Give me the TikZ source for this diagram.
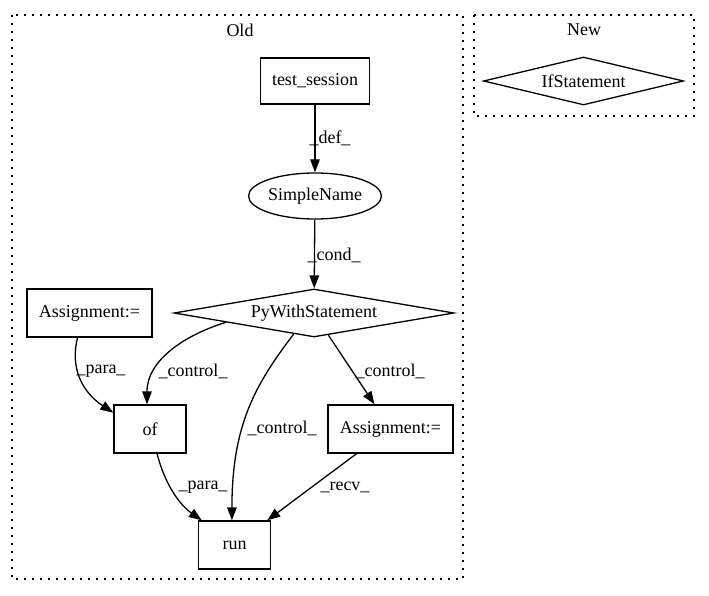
\documentclass[tikz,border=0pt]{standalone}
\usepackage{fontspec}
\setmainfont{Liberation Serif}
\usetikzlibrary{shapes.geometric,arrows.meta}
\begin{document}
\begin{tikzpicture}[x=1pt,y=-1pt,
  every node/.style={font=\fontsize{18}{21}\selectfont, inner sep=0pt},
  boxnode/.style={draw, line width=1.3pt, rectangle},
  diamondnode/.style={draw, line width=1.3pt, diamond},
  ellnode/.style={draw, line width=1.3pt, ellipse, minimum width=108pt, minimum height=46pt},
  cluster/.style={line width=1.3pt, dash pattern=on 2pt off 6pt},
  edge/.style={line width=1.3pt, -{Triangle[length=13pt,width=9.5pt]}},
  elabel/.style={fill=none}
]
\useasboundingbox (0,0) rectangle (709,596);
% clusters
\draw[cluster] (12,15) rectangle (463,579);
\draw[cluster] (474,15) rectangle (694,116);
\node (oldlbl) at (240,30) {Old};
\node (newlbl) at (584,30) {New};
% nodes
\node[boxnode, minimum width=109pt, minimum height=46pt] (ts) at (315,81) {test\_session};
\node[ellnode] (sn) at (315,196) {SimpleName};
\node[diamondnode, shape aspect=5.83, minimum width=280pt, minimum height=48pt] (pws) at (314,313) {PyWithStatement};
\node[boxnode, minimum width=125pt, minimum height=48pt] (al) at (89.5,313) {Assignment:=};
\node[boxnode, minimum width=72pt, minimum height=48pt] (of) at (150,429) {of};
\node[boxnode, minimum width=125pt, minimum height=48pt] (ar) at (390.5,429) {Assignment:=};
\node[boxnode, minimum width=72pt, minimum height=48pt] (run) at (234.5,545) {run};
\node[diamondnode, shape aspect=4.17, minimum width=200pt, minimum height=48pt] (ifs) at (583.5,81) {IfStatement};
% edges
\draw[edge] (ts) -- (sn);
\node (l1) at (330,138) {\_def\_};
\draw[edge] (sn) -- (pws);
\node (l2) at (334,255) {\_cond\_};
\draw[edge] (pws.186) .. controls (185,335) and (147,360) .. (of.97);
\node (l3) at (193,371) {\_control\_};
\draw[edge] (al.244.4) .. controls (70,368) and (82,392) .. (of.156);
\node (l4) at (101,371) {\_para\_};
\draw[edge] (pws.226.4) .. controls (255,385) and (232,425) .. (run.96);
\node (l5) at (282,428) {\_control\_};
\draw[edge] (pws.303) -- (ar.123);
\node (l6) at (390,371) {\_control\_};
\draw[edge] (of.286.3) .. controls (165,485) and (180,505) .. (run.143.6);
\node (l7) at (203,487) {\_para\_};
\draw[edge] (ar.216.4) -- (run.37.3);
\node (l8) at (345,487) {\_recv\_};
\end{tikzpicture}
\end{document}
